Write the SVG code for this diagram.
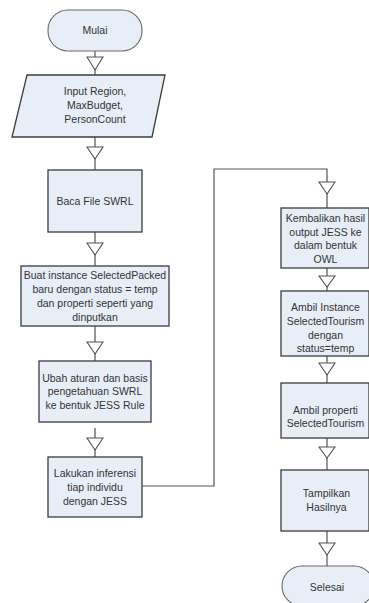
<svg xmlns="http://www.w3.org/2000/svg" width="369" height="603" viewBox="0 0 369 603">
<style>
.box{fill:#e8eef8;stroke:#3c3c3c;stroke-width:1.3}
.term{fill:#e8eef8;stroke:#6a6a6a;stroke-width:1.1}
.ln{fill:none;stroke:#555;stroke-width:1.2}
.ar{fill:#fff;stroke:#555;stroke-width:1.1}
text{font-family:"Liberation Sans",Arial,sans-serif;font-size:10.5px;fill:#333;text-anchor:middle}
</style>
<rect width="369" height="603" fill="#fff"/>
<g id="connectors">
<path class="ln" d="M95 51V75M95 137V170M95 232V266M95 326V361M95 428V457"/>
<path class="ln" d="M142 486H214V169H327V208"/>
<path class="ln" d="M327 268V291M327 356V383M327 438V470M327 531V566"/>
<polygon class="ar" points="87,57 103,57 95,70"/>
<polygon class="ar" points="87,147 103,147 95,159"/>
<polygon class="ar" points="87,243 103,243 95,255"/>
<polygon class="ar" points="87,342 103,342 95,354"/>
<polygon class="ar" points="87,438 103,438 95,450"/>
<polygon class="ar" points="319,182 335,182 327,194"/>
<polygon class="ar" points="319,276 335,276 327,287"/>
<polygon class="ar" points="319,363 335,363 327,375"/>
<polygon class="ar" points="319,447 335,447 327,458"/>
<polygon class="ar" points="319,543 335,543 327,555"/>
</g>
<g id="mulai"><rect class="term" x="48" y="10" width="94" height="41" rx="20"/><text x="95" y="34">Mulai</text></g>
<g id="input"><polygon class="box" points="27,75 165,75 152,137 12,137"/>
<text x="95" y="95">Input Region,</text><text x="95" y="109">MaxBudget,</text><text x="95" y="123">PersonCount</text></g>
<g id="baca"><rect class="box" x="48" y="170" width="94" height="62"/><text x="95" y="205">Baca File SWRL</text></g>
<g id="buat"><rect class="box" x="21" y="266" width="148" height="60"/>
<text x="95" y="279">Buat instance SelectedPacked</text><text x="95" y="293">baru dengan status = temp</text><text x="95" y="307">dan properti seperti yang</text><text x="95" y="321">dinputkan</text></g>
<g id="ubah"><rect class="box" x="39" y="361" width="112" height="61"/>
<text x="95" y="382">Ubah aturan dan basis</text><text x="95" y="395">pengetahuan SWRL</text><text x="95" y="409">ke bentuk JESS Rule</text></g>
<g id="lakukan"><rect class="box" x="48" y="457" width="94" height="60"/>
<text x="95" y="477">Lakukan inferensi</text><text x="95" y="491">tiap individu</text><text x="95" y="505">dengan JESS</text></g>
<g id="kembalikan"><rect class="box" x="281" y="208" width="88" height="60"/>
<text x="325.5" y="222">Kembalikan hasil</text><text x="325.5" y="236">output JESS ke</text><text x="325.5" y="249">dalam bentuk</text><text x="325.5" y="263">OWL</text></g>
<g id="ambilinstance"><rect class="box" x="281" y="291" width="88" height="65"/>
<text x="325.5" y="311">Ambil Instance</text><text x="325.5" y="325">SelectedTourism</text><text x="325.5" y="339">dengan</text><text x="325.5" y="352">status=temp</text></g>
<g id="ambilproperti"><rect class="box" x="281" y="383" width="88" height="55"/>
<text x="325.5" y="414">Ambil properti</text><text x="325.5" y="427">SelectedTourism</text></g>
<g id="tampilkan"><rect class="box" x="281" y="470" width="88" height="61"/>
<text x="326.5" y="497">Tampilkan</text><text x="326.5" y="511">Hasilnya</text></g>
<g id="selesai"><rect class="term" x="282" y="566" width="92" height="40" rx="20"/><text x="327" y="591">Selesai</text></g>
</svg>
